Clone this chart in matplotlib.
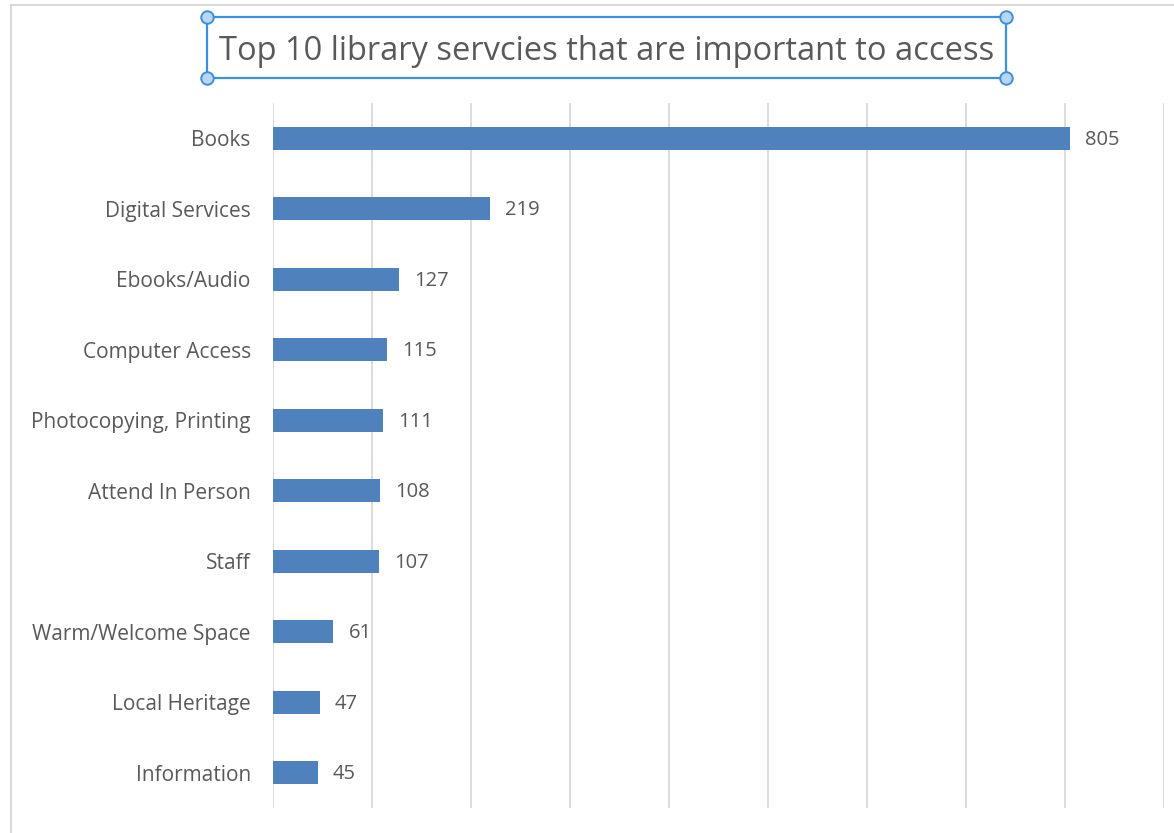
import matplotlib
matplotlib.use("Agg")
import matplotlib.pyplot as plt
from matplotlib.patches import Rectangle
from matplotlib.lines import Line2D

# Survey results: number of responses per library service
services = [
    "Books", "Digital Services", "Ebooks/Audio", "Computer Access",
    "Photocopying, Printing", "Attend In Person", "Staff",
    "Warm/Welcome Space", "Local Heritage", "Information",
]
responses = [805, 219, 127, 115, 111, 108, 107, 61, 47, 45]
title_text = "Top 10 library servcies that are important to access"

plt.rcParams["font.family"] = ["Open Sans", "DejaVu Sans"]

W, H = 1174, 833
fig = plt.figure(figsize=(W / 100, H / 100), dpi=100)
fig.patch.set_facecolor("white")

# chart frame
fig.add_artist(Rectangle((10.5 / W, -0.1), 1.2, 1 - 5.5 / H + 0.1,
                         transform=fig.transFigure, fill=False,
                         edgecolor="#d9d9d9", linewidth=1.5))

ax = fig.add_axes([273 / W, 1 - 808 / H, (1164 - 273) / W, (808 - 103) / H])
y = list(range(len(services)))
ax.barh(y, responses, height=0.33, color="#4f81bd", zorder=3)
ax.set_xlim(0, 900)
ax.set_ylim(len(services) - 0.5, -0.5)
ax.set_xticks(range(0, 901, 100))
ax.set_xticklabels([])
ax.tick_params(axis="x", length=0)
ax.tick_params(axis="y", length=0, pad=16, labelsize=15, labelcolor="#595959")
ax.set_yticks(y)
ax.set_yticklabels(services)
ax.grid(axis="x", color="#d9d9d9", linewidth=1.3, zorder=0)
for s in ax.spines.values():
    s.set_visible(False)

for yi, v in zip(y, responses):
    ax.annotate(str(v), (v, yi), xytext=(11, -1), textcoords="offset points",
                va="center", ha="left", fontsize=14.5, color="#595959")

# selected title box with handles
bx0, bx1, by0, by1 = 207, 1006, 17, 78
fig.add_artist(Rectangle((bx0 / W, 1 - by1 / H), (bx1 - bx0) / W, (by1 - by0) / H,
                         transform=fig.transFigure, fill=False,
                         edgecolor="#3d8fe0", linewidth=1.6, zorder=5))
for hx, hy in [(bx0, by0), (bx1, by0), (bx0, by1), (bx1, by1)]:
    fig.add_artist(Line2D([hx / W], [1 - hy / H], transform=fig.transFigure,
                          marker="o", markersize=9, markerfacecolor="#b9d7f5",
                          markeredgecolor="#3d8fe0", markeredgewidth=1.4,
                          linestyle="none", zorder=6))
fig.text((bx0 + bx1) / 2 / W, 1 - 51 / H, title_text, ha="center", va="center",
         fontsize=23.5, color="#595959")

fig.savefig("out.png", dpi=100)
